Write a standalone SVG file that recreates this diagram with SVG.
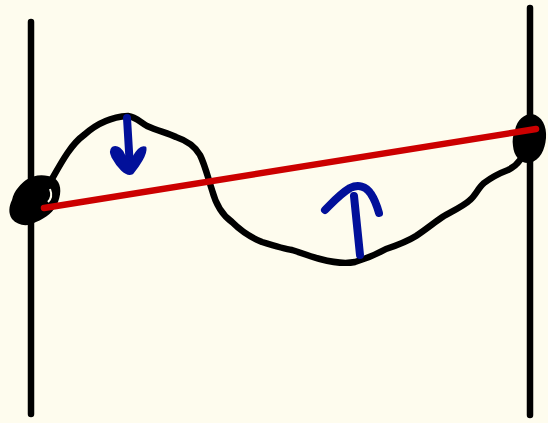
<svg xmlns="http://www.w3.org/2000/svg" width="548" height="423" viewBox="0 0 548 423">
<style>
.ink{fill:none;stroke:#000;stroke-width:6.5;stroke-linecap:round;stroke-linejoin:round}
.blue{fill:none;stroke:#02109a;stroke-width:8;stroke-linecap:round;stroke-linejoin:round}
</style>
<rect width="548" height="423" fill="#fefcee"/>
<g id="left-post"><line class="ink" x1="31" y1="22" x2="31" y2="414"/></g>
<g id="right-post"><line class="ink" x1="530" y1="8" x2="530" y2="415"/></g>
<g id="wave"><path class="ink" d="M48,186 C60,165 70,145 84,135 C95,125 110,117 128,116 C136,117 140,122 147,126 C158,131 168,133 176,137 C188,141 196,148 200,155 C205,165 208,178 212,190 C216,205 222,215 232,222 C242,232 252,238 262,242 C275,246 285,249 292,250 C305,254 312,257 320,259 C335,263 345,264 355,262 C365,259 375,255 386,249 C398,245 408,241 416,236 C428,228 436,221 444,216 C455,210 465,205 470,200 C476,195 478,188 484,183 C492,177 500,173 508,170 C514,167 518,163 520,160"/></g>
<g id="left-knot"><path d="M12,200 C14,190 22,183 26,180 C34,174 46,174 54,178 C61,182 62,192 58,202 C54,212 46,218 36,222 C28,227 18,226 12,219 C8,213 9,206 12,200 Z" fill="#000"/><path d="M50,189 C52,194 51,199 48,202" fill="none" stroke="#fefcee" stroke-width="2"/></g>
<g id="right-knot"><path d="M515,130 C517,120 524,114 532,114 C542,116 547,126 546,138 C545,150 540,160 530,163 C520,164 514,156 513,146 C512,140 513,135 515,130 Z" fill="#000"/></g>
<g id="string"><line x1="44" y1="208" x2="536" y2="129" stroke="#cc0000" stroke-width="6.5" stroke-linecap="round"/></g>
<g id="arrow-down"><path class="blue" d="M127,118 C128,135 129,152 130,168"/><path d="M113,148 C117,146 122,150 124,156 L132,160 C136,154 140,146 145,148 C146,154 138,166 132,173 C126,176 118,166 113,157 C111,153 111,150 113,148 Z" fill="#02109a" stroke="#02109a" stroke-width="3" stroke-linejoin="round"/></g>
<g id="arrow-up"><path class="blue" d="M360,255 C358,235 356,215 354,196"/><path class="blue" d="M325,210 C333,202 340,194 350,188 C358,184 366,186 371,194 C375,200 377,206 379,213"/></g>
</svg>
